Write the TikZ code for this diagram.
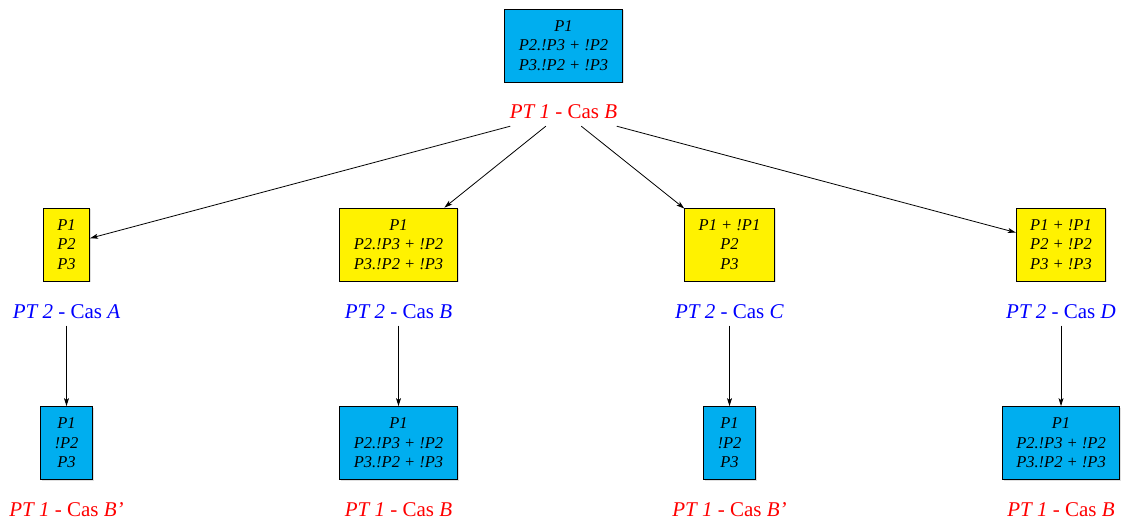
\documentclass[tikz,border=0pt]{standalone}
\usepackage{fontspec}
\setmainfont{Liberation Serif}
\usetikzlibrary{arrows.meta,shadows}
\definecolor{pblue}{RGB}{0,174,239}
\definecolor{pyellow}{RGB}{255,242,0}
\tikzset{
  box/.style={draw,line width=0.8pt,align=center,inner xsep=14pt,minimum height=73pt,
    font=\fontsize{16.5}{19.5}\selectfont\itshape,
    drop shadow={shadow xshift=1.5pt,shadow yshift=-1.5pt,opacity=0.25}},
  bbox/.style={box,fill=pblue},
  ybox/.style={box,fill=pyellow},
  lab/.style={inner xsep=1pt,inner ysep=0pt,minimum height=28pt,font=\fontsize{21}{25}\selectfont},
  rlab/.style={lab,text=red},
  blab/.style={lab,text=blue},
}
\begin{document}
\begin{tikzpicture}[x=1pt,y=1pt]
  \useasboundingbox (0,0) rectangle (1123,522);
  \node[bbox] (t)  at (563.5,476.5) {P1\\P2.!P3 + !P2\\P3.!P2 + !P3};
  \node[rlab] (tl) at (563.5,410) {\textit{PT 1} - Cas \textit{B}};

  \node[ybox] (a)  at (66.5,277.5)   {P1\\P2\\P3};
  \node[ybox] (b)  at (398.5,277.5)  {P1\\P2.!P3 + !P2\\P3.!P2 + !P3};
  \node[ybox] (c)  at (729.5,277.5)  {P1 + !P1\\P2\\P3};
  \node[ybox] (d)  at (1061,277.5)   {P1 + !P1\\P2 + !P2\\P3 + !P3};
  \node[blab] (al) at (66.5,210.5)   {\textit{PT 2} - Cas \textit{A}};
  \node[blab] (bl) at (398.5,210.5)  {\textit{PT 2} - Cas \textit{B}};
  \node[blab] (cl) at (729.5,210.5)  {\textit{PT 2} - Cas \textit{C}};
  \node[blab] (dl) at (1061,210.5)   {\textit{PT 2} - Cas \textit{D}};

  \node[bbox] (a2)  at (66.5,79)     {P1\\!P2\\P3};
  \node[bbox] (b2)  at (398.5,79)    {P1\\P2.!P3 + !P2\\P3.!P2 + !P3};
  \node[bbox] (c2)  at (729.5,79)    {P1\\!P2\\P3};
  \node[bbox] (d2)  at (1061,79)     {P1\\P2.!P3 + !P2\\P3.!P2 + !P3};
  \node[rlab] (a2l) at (66.5,12.5)   {\textit{PT 1} - Cas \textit{B'}};
  \node[rlab] (b2l) at (398.5,12.5)  {\textit{PT 1} - Cas \textit{B}};
  \node[rlab] (c2l) at (729.5,12.5)  {\textit{PT 1} - Cas \textit{B'}};
  \node[rlab] (d2l) at (1061,12.5)   {\textit{PT 1} - Cas \textit{B}};

  \path[-{Stealth[length=8pt,width=5pt,inset=2pt]},line width=0.8pt]
    (tl) edge (a)
    (tl) edge (b)
    (tl) edge (c)
    (tl) edge (d)
    (al) edge (a2)
    (bl) edge (b2)
    (cl) edge (c2)
    (dl) edge (d2);
\end{tikzpicture}
\end{document}
